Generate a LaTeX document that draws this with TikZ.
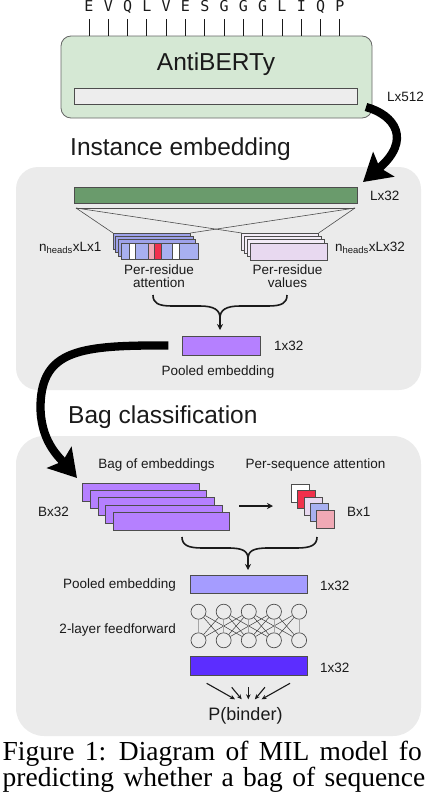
\documentclass[tikz,border=0pt]{standalone}
\usepackage{fontspec}
\setmainfont{Liberation Sans}
\newfontfamily\capfont{Liberation Serif}
\newfontfamily\seqfont{DejaVu Sans Mono}
\usetikzlibrary{arrows.meta}
\definecolor{ink}{HTML}{1A1A1A}
\definecolor{edge}{HTML}{4D4D4D}
\definecolor{greenfill}{HTML}{D5E8D4}
\definecolor{greenedge}{HTML}{666666}
\definecolor{greenbar}{HTML}{6A9B6C}
\definecolor{panelc}{HTML}{EBEBEB}
\definecolor{lightbar}{HTML}{EDEDED}
\definecolor{purp}{HTML}{B580FF}
\definecolor{purp2}{HTML}{A59CFF}
\definecolor{outc}{HTML}{5C2DFF}
\definecolor{peri}{HTML}{A8B0F0}
\definecolor{periback}{HTML}{9EA2EA}
\definecolor{redc}{HTML}{F0304C}
\definecolor{pinkc}{HTML}{F0A9B5}
\definecolor{lav}{HTML}{E8D9F0}
\definecolor{lavback}{HTML}{F3ECF7}
\begin{document}
\begin{tikzpicture}[x=1pt,y=-1pt,
  barbox/.style={draw=edge,line width=0.8pt,inner sep=0pt,outer sep=0pt,anchor=north west},
  txtlab/.style={font=\fontsize{13.5}{15}\selectfont,inner sep=0pt,text=ink},
  ttltxt/.style={font=\fontsize{24.5}{28}\selectfont,inner sep=0pt,text=ink},
  seqtxt/.style={font=\seqfont\fontsize{15}{17}\selectfont,inner sep=0pt,text=ink},
  captxt/.style={font=\capfont\fontsize{27.5}{30}\selectfont,inner sep=0pt,text=black,anchor=base west},
  bigarr/.style={draw=black,line width=8.3pt,-{Stealth[length=27pt,width=32pt,inset=5pt]}},
  bracep/.style={draw=ink,line width=1.6pt},
  smallarr/.style={draw=ink,line width=1.6pt,-{Stealth[length=6pt,width=6pt]}},
  outarr/.style={draw=ink,line width=1.1pt,-{Stealth[length=5pt,width=4.5pt]}},
  tickl/.style={draw=ink,line width=0.9pt},
  fanl/.style={draw=edge,line width=0.6pt},
  sqbox/.style={draw=edge,line width=0.8pt,minimum size=18pt,inner sep=0pt,outer sep=0pt,anchor=north west},
  neuron/.style={circle,draw=edge,line width=0.7pt,minimum size=15pt,inner sep=0pt},
  wire/.style={draw=ink!85,line width=0.5pt},
  stripe/.style={draw=edge,line width=0.6pt}
]
\useasboundingbox (0,0) rectangle (430,798);

% panels
\fill[panelc,rounded corners=22pt] (16,167) rectangle (421,390);
\fill[panelc,rounded corners=28pt] (16,436) rectangle (421,736);

% AntiBERTy
\node[draw=greenedge,fill=greenfill,rounded corners=10pt,line width=0.8pt,minimum width=311pt,minimum height=82pt,anchor=north west,inner sep=0pt,outer sep=0pt] (ab) at (61,36) {};
\node[ttltxt,anchor=base] (abt) at (216,70.7) {AntiBERTy};
\node[barbox,fill=lightbar,minimum width=283pt,minimum height=16pt] (abbar) at (74,88) {};
\node[txtlab,anchor=base west] (l512) at (387,101.5) {Lx512};

% sequence letters
\foreach \c [count=\i] in {E,V,Q,L,V,E,S,G,G,G,L,I,Q,P} {
  \pgfmathsetmacro\xx{89+19.3*(\i-1)}
  \node[seqtxt,anchor=base] (s\i) at (\xx,11) {\c};
  \coordinate (t\i) at (\xx,19);
  \draw[tickl] (t\i) -- (t\i |- ab.north);
}

% Instance embedding
\node[ttltxt,anchor=base west] (title1) at (70,155) {Instance embedding};
\node[barbox,fill=greenbar,minimum width=283pt,minimum height=16pt] (ge) at (74,187) {};
\node[txtlab,anchor=base west] (l32) at (370,200) {Lx32};

% attention stack
\foreach \k in {1,...,4} {
  \pgfmathsetmacro\ax{113+2.67*(\k-1)}
  \pgfmathsetmacro\ay{233+3.33*(\k-1)}
  \ifnum\k<4
    \node[barbox,fill=periback,minimum width=77.5pt,minimum height=16.5pt] (att\k) at (\ax,\ay) {};
  \else
    \node[barbox,fill=peri,minimum width=77.5pt,minimum height=16.5pt] (att\k) at (\ax,\ay) {};
  \fi
}
\draw[stripe,fill=white] (129.3,243) rectangle (135,259.5);
\draw[stripe,fill=pinkc] (148.3,243) rectangle (154.3,259.5);
\draw[stripe,fill=redc] (154.3,243) rectangle (161,259.5);
\draw[stripe,fill=white] (172.7,243) rectangle (179,259.5);

% values stack
\foreach \k in {1,...,4} {
  \pgfmathsetmacro\vx{241.7+2.77*(\k-1)}
  \pgfmathsetmacro\vy{233+3.33*(\k-1)}
  \ifnum\k<4
    \node[barbox,fill=lavback,minimum width=77pt,minimum height=17pt] (val\k) at (\vx,\vy) {};
  \else
    \node[barbox,fill=lav,minimum width=77pt,minimum height=17pt] (val\k) at (\vx,\vy) {};
  \fi
}

% fan lines
\coordinate (fl) at (76,208);
\coordinate (fr) at (355,208);
\draw[fanl] (fl) -- (fr);
\draw[fanl] (fl) -- (att1.north west);
\draw[fanl] (fr) -- (att1.north east);
\draw[fanl] (fl) -- (val1.north west);
\draw[fanl] (fr) -- (val1.north east);

\node[txtlab,anchor=base west] (nh1) at (39,251.7) {n\textsubscript{heads}xLx1};
\node[txtlab,anchor=base west] (nh2) at (335,251.7) {n\textsubscript{heads}xLx32};
\node[txtlab,anchor=base] (pra) at (159,274.3) {Per-residue};
\node[txtlab,anchor=base] (prb) at (159,287) {attention};
\node[txtlab,anchor=base] (pva) at (287.5,274.3) {Per-residue};
\node[txtlab,anchor=base] (pvb) at (287.5,287) {values};

% pooled embedding (instance)
\node[barbox,fill=purp,minimum width=78pt,minimum height=19pt] (pe1) at (182,336) {};
\node[txtlab,anchor=base west] (p1l) at (274,350.5) {1x32};
\node[txtlab,anchor=base] (p1t) at (218,375.5) {Pooled embedding};

% brace 1
\draw[bracep] (153,295) .. controls (153,303) and (158,306) .. (172,306) -- (200,306) .. controls (214,306) and (220,310) .. (220,318);
\draw[bracep] (287,295) .. controls (287,303) and (282,306) .. (268,306) -- (240,306) .. controls (226,306) and (220,310) .. (220,318);
\draw[smallarr] (220,316) -- ([xshift=-1pt,yshift=6pt]pe1.north);

% Bag classification
\node[ttltxt,anchor=base west] (title2) at (68,423.3) {Bag classification};
\node[txtlab,anchor=base] (boe) at (156.5,468) {Bag of embeddings};
\node[txtlab,anchor=base] (psa) at (315.5,468) {Per-sequence attention};

\foreach \k in {1,...,5} {
  \pgfmathsetmacro\bx{82.7+7.65*(\k-1)}
  \pgfmathsetmacro\by{483.3+7.25*(\k-1)}
  \node[barbox,fill=purp,minimum width=116.5pt,minimum height=18pt] (bag\k) at (\bx,\by) {};
}
\node[txtlab,anchor=base west] (bx32) at (38,516.7) {Bx32};

\coordinate (sa) at (239,506);
\coordinate (sb) at (273,506);
\draw[draw=ink,line width=1.8pt,-{Stealth[length=6pt,width=6pt]}] (sa) -- (sb);

\node[sqbox,fill=white] (sq1) at (291.3,484.3) {};
\node[sqbox,fill=redc] (sq2) at (297.6,490.7) {};
\node[sqbox,fill=lav] (sq3) at (303.9,497.1) {};
\node[sqbox,fill=peri] (sq4) at (310.2,503.5) {};
\node[sqbox,fill=pinkc] (sq5) at (316.5,509.9) {};
\node[txtlab,anchor=base west] (bx1) at (347,516.7) {Bx1};

% brace 2
\draw[bracep] (182,537) .. controls (182,545) and (188,548) .. (202,548) -- (228,548) .. controls (243,548) and (248,551) .. (248,559);
\draw[bracep] (317,537) .. controls (317,545) and (311,548) .. (297,548) -- (268,548) .. controls (253,548) and (248,551) .. (248,559);

\node[barbox,fill=purp2,minimum width=116.6pt,minimum height=17.6pt] (pe2) at (190.7,575.7) {};
\draw[smallarr] (248,557) -- ([xshift=-1pt,yshift=5.7pt]pe2.north);
\node[txtlab,anchor=base east] (p2t) at (176,588) {Pooled embedding};
\node[txtlab,anchor=base west] (p2l) at (320,590) {1x32};

% feedforward
\foreach \i in {1,...,5} {
  \pgfmathsetmacro\nx{198.5+25.15*(\i-1)}
  \node[neuron] (f\i) at (\nx,611.7) {};
  \node[neuron] (g\i) at (\nx,640.3) {};
}
\foreach \i/\j in {1/2,1/3,2/1,2/3,2/4,3/1,3/2,3/4,3/5,4/2,4/3,4/5,5/3,5/4}
  \draw[wire] (f\i) -- (g\j);
\foreach \i in {1,...,5}
  \draw[draw=gray!70,line width=0.7pt] (f\i) -- (g\i);
\node[txtlab,anchor=base east] (ffl) at (176,633) {2-layer feedforward};

\node[barbox,fill=outc,minimum width=116.6pt,minimum height=19pt] (ob) at (190.7,656.7) {};
\node[txtlab,anchor=base west] (p3l) at (320,672) {1x32};

% output arrows
\coordinate (pa1) at (206.7,683.3); \coordinate (pb1) at (235,699.3);
\coordinate (pa2) at (231.7,687.3); \coordinate (pb2) at (241.7,699.3);
\coordinate (pa3) at (248.3,687.3); \coordinate (pb3) at (248.3,699.3);
\coordinate (pa4) at (264.9,687.3); \coordinate (pb4) at (254.9,699.3);
\coordinate (pa5) at (290,683.3);   \coordinate (pb5) at (261.6,699.3);
\foreach \i in {1,...,5} \draw[outarr] (pa\i) -- (pb\i);
\node[font=\fontsize{18}{20}\selectfont,inner sep=0pt,text=ink,anchor=base] (pbind) at (245.5,720.5) {P(binder)};

% big curved arrows
\draw[bigarr] ([xshift=-6pt,yshift=11pt]ab.south east) .. controls (395,115) and (412,140) .. ([xshift=6pt,yshift=5pt]ge.north east);
\draw[bigarr] ([xshift=-13.7pt]pe1.west) .. controls (80,345) and (42,350) .. (40.5,405) .. controls (40,440) and (58,456) .. ([xshift=-5.7pt,yshift=5.3pt]bag1.north west);

% caption
\node[captxt] (cap1) at (2.5,760.5) {\spaceskip=10.4pt Figure 1: Diagram of MIL model fo};
\node[captxt] (cap2) at (2.5,786.5) {\spaceskip=9.4pt predicting whether a bag of sequence};
\end{tikzpicture}
\end{document}
